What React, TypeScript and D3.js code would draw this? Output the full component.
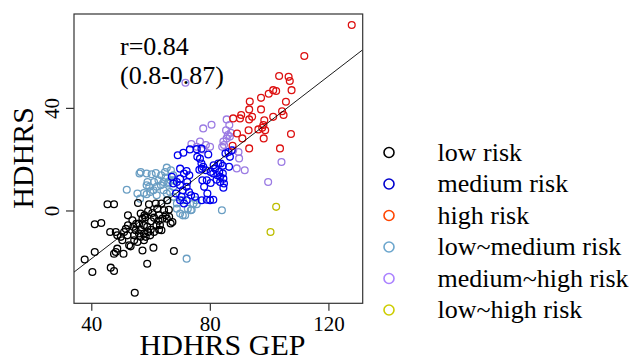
import React from "react";
import * as d3 from "d3";

type Pt = [number, number];

const lowRisk: Pt[] = [
  [45.3, 2.6], [47.5, 2.6], [55.6, 3.1], [59.3, 2.6], [61.6, 2.9], [63.5, 2.9], [65.5, 4.2],
  [52.2, -1.7], [56.5, -1.0], [57.8, -1.7], [57.1, -3.0], [60.4, -0.8], [61.0, -2.6], [62.7, -1.7],
  [63.8, -3.0], [64.9, -1.7], [66.1, -2.3], [67.2, -4.3], [66.6, -4.9], [41.0, -5.2], [43.2, -4.7],
  [46.2, -8.2], [48.1, -8.2], [48.6, -9.5], [50.9, -8.2], [52.2, -5.6], [54.0, -6.2], [54.8, -7.5],
  [56.5, -7.3], [57.6, -5.6], [58.7, -6.2], [59.9, -7.3], [61.0, -8.2], [62.7, -7.3], [63.5, -7.5],
  [54.3, -9.5], [55.9, -8.8], [57.6, -8.8], [59.0, -8.2], [50.3, -11.4], [54.3, -11.4], [55.4, -12.1],
  [57.6, -11.4], [52.6, -13.4], [53.1, -13.8], [48.6, -14.7], [48.1, -16.0], [47.5, -16.7],
  [50.7, -16.7], [57.1, -15.4], [60.8, -14.3], [67.7, -15.6], [37.6, -18.9], [41.0, -16.0],
  [40.2, -23.8], [46.4, -22.1], [47.5, -23.4], [58.7, -20.6], [54.5, -31.9], [58.2, -10.1],
  [59.7, -9.5], [56.5, -10.1], [52.0, -9.5], [49.8, -10.1], [56.0, -4.9], [53.7, -3.6],
  [62.1, 0.9], [64.4, 0.3], [60.0, -4.0], [58.0, -2.5], [55.0, -5.0], [61.8, -5.5], [65.3, -3.0],
  [59.0, 0.0], [62.5, -3.8], [51.5, -7.0], [63.0, -5.5], [66.0, 0.5],
];

const mediumRisk: Pt[] = [
  [69.0, 21.7], [70.9, 22.7], [73.1, 24.0], [75.4, 24.1], [77.0, 24.3], [79.3, 22.0], [76.5, 20.4],
  [77.0, 18.5], [77.6, 17.2], [76.3, 16.1], [78.5, 15.9], [80.1, 15.2], [81.1, 17.8], [82.7, 18.5],
  [84.2, 17.6], [86.3, 17.2], [86.6, 21.1], [85.1, 22.4], [86.1, 23.0], [81.0, 14.6], [82.4, 13.9],
  [83.3, 13.3], [84.4, 12.6], [82.1, 12.2], [84.6, 10.7], [84.4, 9.1], [83.3, 11.3], [80.1, 10.9],
  [78.8, 12.0], [77.3, 12.0], [77.9, 9.4], [79.0, 6.8], [79.9, 4.2], [81.0, 4.4], [78.8, 4.4],
  [77.1, 4.2], [74.8, 5.5], [73.5, 6.1], [72.8, 7.4], [72.0, 9.4], [72.2, 11.3], [72.9, 13.9],
  [72.0, 15.6], [69.8, 16.5], [71.1, 14.6], [69.8, 12.6], [68.7, 11.3], [67.5, 10.7], [67.0, 13.3],
  [69.8, 10.0], [70.7, 8.1], [72.0, 4.2], [71.1, 2.9], [69.8, 4.2], [68.4, 6.8], [70.3, 5.5],
  [87.2, 23.7], [83.5, 18.5], [81.6, 16.5], [83.0, 15.2], [84.2, 14.6], [77.1, 16.5], [75.6, 21.1],
];

const highRisk: Pt[] = [
  [127.7, 72.5], [111.7, 60.4], [103.2, 52.6], [106.4, 52.3], [106.8, 50.7], [107.4, 47.1],
  [101.2, 47.1], [102.2, 46.8], [99.7, 45.7], [97.1, 44.1], [93.3, 42.7], [105.5, 42.6],
  [93.1, 39.6], [97.1, 39.6], [104.2, 38.9], [104.7, 37.4], [101.2, 36.7], [87.7, 36.1],
  [90.4, 37.4], [90.0, 36.1], [94.1, 36.7], [93.1, 35.7], [98.2, 35.4], [97.5, 32.4],
  [96.2, 31.8], [98.5, 31.5], [92.9, 31.5], [89.0, 30.2], [90.8, 28.3], [98.0, 28.3],
  [107.2, 30.0], [87.5, 25.4], [93.1, 24.4], [103.5, 24.4], [97.9, 33.5],
];

const lowMedium: Pt[] = [
  [51.8, 8.3], [56.1, 14.6], [56.5, 15.2], [58.5, 14.6], [60.2, 14.3], [61.6, 14.8], [65.3, 16.9],
  [66.7, 15.9], [64.9, 13.0], [65.8, 11.3], [64.2, 11.3], [63.3, 10.0], [61.9, 9.4], [60.8, 8.1],
  [59.7, 7.4], [58.5, 6.5], [57.6, 7.0], [55.4, 6.8], [56.3, 4.8], [58.5, 10.0], [58.8, 11.3],
  [59.4, 9.4], [61.0, 11.3], [61.9, 6.1], [64.2, 8.1], [65.3, 6.8], [66.4, 7.4], [67.5, 5.5],
  [68.7, 2.9], [69.8, -1.0], [70.7, -1.7], [71.5, -1.7], [72.4, 0.9], [73.4, 0.3], [74.3, 2.9],
  [73.7, 0.5], [75.4, 2.6], [75.2, 4.2], [65.3, 4.2], [65.8, 10.7], [66.6, 12.0], [67.5, 9.4],
  [67.5, 12.0], [67.5, 13.9], [64.7, 15.2], [63.4, 13.9], [62.5, 12.0], [72.0, -18.6], [83.9, 0.3],
  [70.7, 4.2], [68.7, 0.9],
];

const mediumHigh: Pt[] = [
  [71.6, 50.0], [80.4, 33.6], [77.6, 32.2], [85.5, 35.7], [86.4, 33.5], [85.3, 31.5], [85.9, 29.6],
  [85.5, 28.3], [86.6, 29.0], [84.4, 27.1], [84.6, 25.7], [76.5, 27.1], [75.4, 25.0], [77.6, 24.0],
  [78.5, 25.7], [73.6, 26.1], [79.9, 25.0], [87.7, 23.7], [89.5, 23.0], [89.7, 20.5], [88.9, 16.6],
  [91.6, 15.9], [104.0, 19.1], [99.5, 11.3], [86.9, 30.5], [84.0, 25.0],
];

const lowHigh: Pt[] = [
  [102.2, 1.6], [100.3, -8.2],
];

const legendLabels = ["low risk", "medium risk", "high risk", "low~medium risk", "medium~high risk", "low~high risk"];
const legendColors = ["#000000", "#0000CD", "#FF4500", "#6CA6CD", "#AB82FF", "#CDCD00"];
const pointColors = ["#000000", "#0000EE", "#DD1111", "#6A9EC3", "#9B7BE3", "#BDBD00"];

const xTicks = [40, 80, 120];
const yTicks = [0, 40];

const fitIntercept = -54.1;
const fitSlope = 0.89;

const corrText = ["r=0.84", "(0.8-0.87)"];
const xLabel = "HDHRS GEP";
const yLabel = "HDHRS";

const W = 634;
const H = 358;
const L = 74, R = 362.7, T = 14, B = 303.3;
const font = "'Liberation Serif', 'Times New Roman', serif";

export default function App() {
  const x = d3.scaleLinear().domain([34.0, 131.4]).range([L, R]);
  const y = d3.scaleLinear().domain([-36, 76.8]).range([B, T]);

  const groups: { pts: Pt[]; color: string }[] = [
    { pts: lowMedium, color: pointColors[3] },
    { pts: mediumHigh, color: pointColors[4] },
    { pts: lowRisk, color: pointColors[0] },
    { pts: mediumRisk, color: pointColors[1] },
    { pts: highRisk, color: pointColors[2] },
    { pts: lowHigh, color: pointColors[5] },
  ];

  const [x0, x1] = x.domain();
  const line = d3.line<number>()
    .x((d) => x(d))
    .y((d) => y(fitIntercept + fitSlope * d));

  return (
    <svg width={W} height={H} style={{ position: "absolute", left: 0, top: 0, background: "#fff" }}>
      <rect x={0} y={0} width={W} height={H} fill="#fff" />
      <defs>
        <clipPath id="plotclip">
          <rect x={L} y={T} width={R - L} height={B - T} />
        </clipPath>
      </defs>
      <g clipPath="url(#plotclip)">
        {groups.map((g, gi) =>
          g.pts.map((p, i) => (
            <circle key={`${gi}-${i}`} cx={x(p[0])} cy={y(p[1])} r={3.4} fill="none" stroke={g.color} strokeWidth={1.3} />
          ))
        )}
        <path d={line([x0, x1]) || ""} stroke="#000" strokeWidth={0.9} fill="none" />
      </g>
      <rect x={L} y={T} width={R - L} height={B - T} fill="none" stroke="#333" strokeWidth={1.2} />
      {xTicks.map((t) => (
        <g key={`xt${t}`}>
          <line x1={x(t)} x2={x(t)} y1={B} y2={B + 7.5} stroke="#333" strokeWidth={1.2} />
          <text x={x(t)} y={330.5} textAnchor="middle" fontFamily={font} fontSize={21} fill="#000">{t}</text>
        </g>
      ))}
      {yTicks.map((t) => (
        <g key={`yt${t}`}>
          <line x1={L} x2={L - 8} y1={y(t)} y2={y(t)} stroke="#333" strokeWidth={1.2} />
          <text transform={`translate(59,${y(t)}) rotate(-90)`} textAnchor="middle" fontFamily={font} fontSize={21} fill="#000">{t}</text>
        </g>
      ))}
      <text x={222.5} y={355} textAnchor="middle" fontFamily={font} fontSize={30} fill="#000">{xLabel}</text>
      <text transform={`translate(33,158) rotate(-90)`} textAnchor="middle" fontFamily={font} fontSize={30} fill="#000">{yLabel}</text>
      <text x={120} y={55} fontFamily={font} fontSize={26} fill="#000">{corrText[0]}</text>
      <text x={120} y={84} fontFamily={font} fontSize={26} fill="#000">{corrText[1]}</text>
      {legendLabels.map((lab, i) => (
        <g key={lab}>
          <circle cx={389} cy={152.5 + i * 31.5} r={5} fill="none" stroke={legendColors[i]} strokeWidth={1.6} />
          <text x={437.5} y={152.5 + i * 31.5 + 8} fontFamily={font} fontSize={26} fill="#000">{lab}</text>
        </g>
      ))}
    </svg>
  );
}
